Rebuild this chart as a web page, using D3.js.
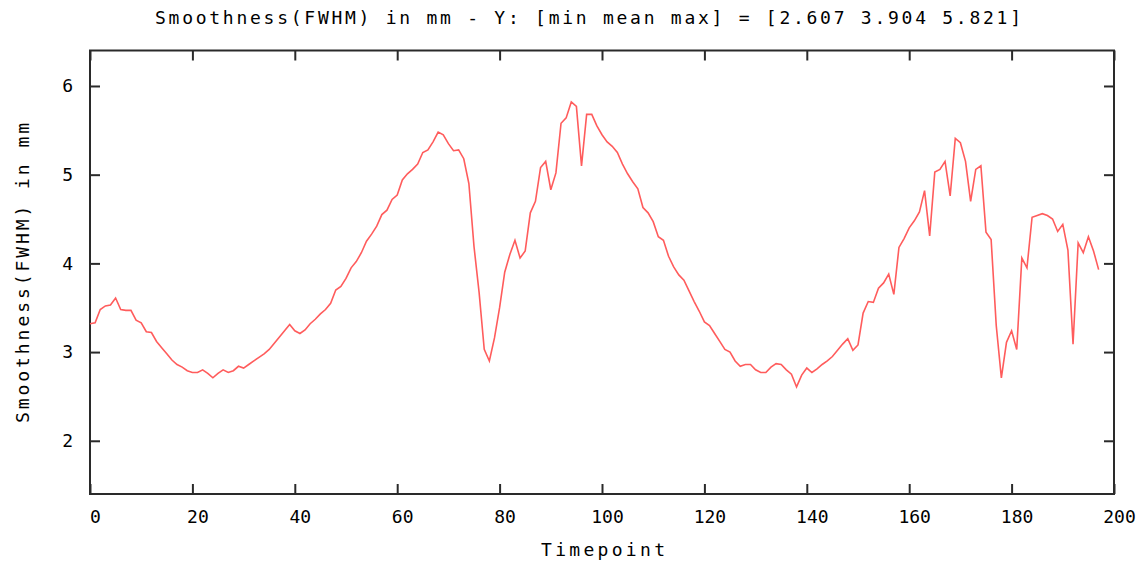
<!DOCTYPE html>
<html>
<head>
<meta charset="utf-8">
<script src="https://cdn.jsdelivr.net/npm/d3@7"></script>
<style>
  body { margin: 0; background: #fff; }
  text { font-family: "DejaVu Sans Mono", "Liberation Mono", monospace; fill: #000; }
</style>
</head>
<body>
<div id="chart"></div>
<script>
// FWHM smoothness per timepoint
const smoothness = [
  3.32, 3.33, 3.48, 3.52, 3.53, 3.61, 3.48, 3.47, 3.47, 3.36,
  3.33, 3.23, 3.22, 3.12, 3.05, 2.98, 2.91, 2.86, 2.83, 2.79,
  2.77, 2.77, 2.80, 2.76, 2.71, 2.76, 2.80, 2.77, 2.79, 2.84,
  2.82, 2.86, 2.90, 2.94, 2.98, 3.03, 3.10, 3.17, 3.24, 3.31,
  3.24, 3.21, 3.25, 3.32, 3.37, 3.43, 3.48, 3.55, 3.70, 3.74,
  3.83, 3.95, 4.02, 4.12, 4.25, 4.33, 4.42, 4.55, 4.60, 4.72,
  4.77, 4.94, 5.01, 5.06, 5.12, 5.25, 5.28, 5.37, 5.48, 5.45,
  5.35, 5.27, 5.28, 5.18, 4.90, 4.19, 3.67, 3.03, 2.90, 3.16,
  3.50, 3.90, 4.10, 4.26, 4.06, 4.14, 4.57, 4.70, 5.08, 5.15,
  4.83, 5.02, 5.58, 5.64, 5.82, 5.77, 5.10, 5.68, 5.68, 5.55,
  5.45, 5.37, 5.32, 5.25, 5.12, 5.01, 4.92, 4.84, 4.63, 4.57,
  4.47, 4.30, 4.26, 4.08, 3.96, 3.87, 3.81, 3.69, 3.57, 3.46,
  3.34, 3.30, 3.21, 3.12, 3.03, 3.00, 2.90, 2.84, 2.86, 2.86,
  2.80, 2.77, 2.77, 2.83, 2.87, 2.86, 2.80, 2.75, 2.607, 2.74,
  2.82, 2.77, 2.81, 2.86, 2.90, 2.95, 3.02, 3.09, 3.15, 3.02,
  3.08, 3.44, 3.57, 3.56, 3.72, 3.78, 3.88, 3.65, 4.18, 4.28,
  4.40, 4.48, 4.58, 4.82, 4.31, 5.03, 5.06, 5.15, 4.76, 5.41,
  5.36, 5.15, 4.70, 5.06, 5.10, 4.35, 4.27, 3.30, 2.71, 3.11,
  3.24, 3.03, 4.06, 3.95, 4.52, 4.54, 4.56, 4.54, 4.50, 4.36,
  4.44, 4.15, 3.09, 4.23, 4.12, 4.30, 4.14, 3.93
];
const timepoints = d3.range(smoothness.length);

const xTicks = [0, 20, 40, 60, 80, 100, 120, 140, 160, 180, 200];
const yTicks = [2, 3, 4, 5, 6];

const chartTitle = 'Smoothness(FWHM) in mm - Y: [min mean max] = [2.607 3.904 5.821]';
const xLabel = 'Timepoint';
const yLabel = 'Smoothness(FWHM) in mm';

const W = 1146, H = 565;
const margin = { top: 50.5, right: 32, bottom: 71, left: 90 };
const width = W - margin.left - margin.right;
const height = H - margin.top - margin.bottom;

const svg = d3.select('#chart')
  .append('svg')
  .attr('width', W)
  .attr('height', H);

const g = svg.append('g')
  .attr('transform', `translate(${margin.left}, ${margin.top})`);

const x = d3.scaleLinear().domain([0, 200]).range([0, width]);
const y = d3.scaleLinear().domain([1.4, 6.4]).range([height, 0]);

const axisColor = '#2a2a2a';
const fontSize = '18px';

function styleAxis(sel, showText) {
  sel.select('.domain').remove();
  sel.selectAll('line').attr('stroke', axisColor).attr('stroke-width', 2);
  if (!showText) sel.selectAll('text').remove();
  else sel.selectAll('text').style('font-size', fontSize).attr('fill', '#000');
}

// bottom + top (mirrored) ticks, pointing inward
g.append('g')
  .attr('transform', `translate(0, ${height})`)
  .call(d3.axisBottom(x).tickValues(xTicks).tickFormat(d3.format('d'))
    .tickSizeInner(-10).tickSizeOuter(0).tickPadding(16))
  .call((s) => styleAxis(s, true))
  .selectAll('text')
  .attr('dx', 5);

g.append('g')
  .call(d3.axisTop(x).tickValues(xTicks).tickSizeInner(-10).tickSizeOuter(0))
  .call((s) => styleAxis(s, false));

g.append('g')
  .call(d3.axisLeft(y).tickValues(yTicks).tickFormat(d3.format('d'))
    .tickSizeInner(-10).tickSizeOuter(0).tickPadding(17))
  .call((s) => styleAxis(s, true));

g.append('g')
  .attr('transform', `translate(${width}, 0)`)
  .call(d3.axisRight(y).tickValues(yTicks).tickSizeInner(-10).tickSizeOuter(0))
  .call((s) => styleAxis(s, false));

// frame
g.append('rect')
  .attr('x', 0)
  .attr('y', 0)
  .attr('width', width)
  .attr('height', height)
  .attr('fill', 'none')
  .attr('stroke', axisColor)
  .attr('stroke-width', 2);

// data line
const line = d3.line()
  .x((d, i) => x(timepoints[i]))
  .y((d) => y(d));

g.append('path')
  .datum(smoothness)
  .attr('fill', 'none')
  .attr('stroke', '#ff5c5c')
  .attr('stroke-width', 1.6)
  .attr('stroke-linejoin', 'miter')
  .attr('d', line);

// title and axis labels
svg.append('text')
  .attr('x', 588)
  .attr('y', 24)
  .attr('text-anchor', 'middle')
  .attr('textLength', 866)
  .attr('lengthAdjust', 'spacing')
  .style('font-size', fontSize)
  .text(chartTitle);

svg.append('text')
  .attr('x', 603)
  .attr('y', 556)
  .attr('text-anchor', 'middle')
  .attr('textLength', 124)
  .attr('lengthAdjust', 'spacing')
  .style('font-size', fontSize)
  .text(xLabel);

svg.append('text')
  .attr('transform', 'rotate(-90)')
  .attr('x', -273)
  .attr('y', 29)
  .attr('text-anchor', 'middle')
  .attr('textLength', 300)
  .attr('lengthAdjust', 'spacing')
  .style('font-size', fontSize)
  .text(yLabel);
</script>
</body>
</html>
